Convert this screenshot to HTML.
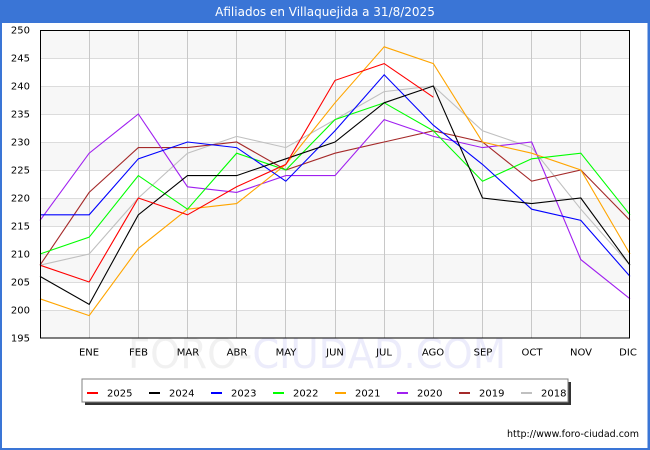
<!DOCTYPE html>
<html><head><meta charset="utf-8"><style>
html,body{margin:0;padding:0;background:#fff;}
svg{display:block;}
</style></head><body>
<svg width="650" height="450" viewBox="0 0 650 450" xmlns="http://www.w3.org/2000/svg" font-family="'DejaVu Sans','Liberation Sans',sans-serif">
<rect x="0" y="0" width="650" height="450" fill="#fff"/>
<!-- blue frame -->
<rect x="0" y="0" width="650" height="23" fill="#3a75d6"/>
<rect x="0" y="0" width="2" height="450" fill="#3a75d6"/>
<rect x="647.5" y="0" width="2.5" height="450" fill="#3a75d6"/>
<rect x="0" y="448" width="650" height="2" fill="#3a75d6"/>
<text x="325" y="16" font-size="12" fill="#fff" text-anchor="middle">Afiliados en Villaquejida a 31/8/2025</text>

<!-- bands -->
<g fill="#f7f7f7" shape-rendering="crispEdges">
<rect x="40" y="30" width="590" height="28"/>
<rect x="40" y="86" width="590" height="28"/>
<rect x="40" y="142" width="590" height="28"/>
<rect x="40" y="198" width="590" height="28"/>
<rect x="40" y="254" width="590" height="28"/>
<rect x="40" y="310" width="590" height="28"/>
</g>
<!-- horizontal grid -->
<g stroke="#dcdcdc" stroke-width="1" shape-rendering="crispEdges">
<line x1="40" y1="58.5" x2="630" y2="58.5"/>
<line x1="40" y1="86.5" x2="630" y2="86.5"/>
<line x1="40" y1="114.5" x2="630" y2="114.5"/>
<line x1="40" y1="142.5" x2="630" y2="142.5"/>
<line x1="40" y1="170.5" x2="630" y2="170.5"/>
<line x1="40" y1="198.5" x2="630" y2="198.5"/>
<line x1="40" y1="226.5" x2="630" y2="226.5"/>
<line x1="40" y1="254.5" x2="630" y2="254.5"/>
<line x1="40" y1="282.5" x2="630" y2="282.5"/>
<line x1="40" y1="310.5" x2="630" y2="310.5"/>
</g>
<!-- vertical grid -->
<g stroke="#c8c8c8" stroke-width="1" shape-rendering="crispEdges">
<line x1="89.5" y1="30" x2="89.5" y2="338"/>
<line x1="138.5" y1="30" x2="138.5" y2="338"/>
<line x1="187.5" y1="30" x2="187.5" y2="338"/>
<line x1="236.5" y1="30" x2="236.5" y2="338"/>
<line x1="285.5" y1="30" x2="285.5" y2="338"/>
<line x1="335.5" y1="30" x2="335.5" y2="338"/>
<line x1="384.5" y1="30" x2="384.5" y2="338"/>
<line x1="433.5" y1="30" x2="433.5" y2="338"/>
<line x1="482.5" y1="30" x2="482.5" y2="338"/>
<line x1="531.5" y1="30" x2="531.5" y2="338"/>
<line x1="580.5" y1="30" x2="580.5" y2="338"/>
</g>

<!-- watermark -->
<text x="128" y="368" font-size="41" textLength="378" lengthAdjust="spacingAndGlyphs"><tspan fill="#f1f1f1">FORO-</tspan><tspan fill="#ececfb">CIUDAD.COM</tspan></text>

<!-- series -->
<g fill="none" stroke-width="1.1" stroke-linejoin="miter">
<polyline stroke="#c0c0c0" points="40,265.2 89.17,254 138.33,198 187.5,153.2 236.67,136.4 285.83,147.6 335,119.6 384.17,91.6 433.33,86 482.5,130.8 531.67,147.6 580.83,209.2 630,265.2"/>
<polyline stroke="#a52a2a" points="40,265.2 89.17,192.4 138.33,147.6 187.5,147.6 236.67,142 285.83,170 335,153.2 384.17,142 433.33,130.8 482.5,142 531.67,181.2 580.83,170 630,220.4"/>
<polyline stroke="#a020f0" points="40,220.4 89.17,153.2 138.33,114 187.5,186.8 236.67,192.4 285.83,175.6 335,175.6 384.17,119.6 433.33,136.4 482.5,147.6 531.67,142 580.83,259.6 630,298.8"/>
<polyline stroke="#ffa500" points="40,298.8 89.17,315.6 138.33,248.4 187.5,209.2 236.67,203.6 285.83,164.4 335,102.8 384.17,46.8 433.33,63.6 482.5,142 531.67,153.2 580.83,170 630,254"/>
<polyline stroke="#00ff00" points="40,254 89.17,237.2 138.33,175.6 187.5,209.2 236.67,153.2 285.83,170 335,119.6 384.17,102.8 433.33,130.8 482.5,181.2 531.67,158.8 580.83,153.2 630,214.8"/>
<polyline stroke="#0000ff" points="40,214.8 89.17,214.8 138.33,158.8 187.5,142 236.67,147.6 285.83,181.2 335,130.8 384.17,74.8 433.33,125.2 482.5,164.4 531.67,209.2 580.83,220.4 630,276.4"/>
<polyline stroke="#000000" points="40,276.4 89.17,304.4 138.33,214.8 187.5,175.6 236.67,175.6 285.83,158.8 335,142 384.17,102.8 433.33,86 482.5,198 531.67,203.6 580.83,198 630,265.2"/>
<polyline stroke="#ff0000" points="40,265.2 89.17,282 138.33,198 187.5,214.8 236.67,186.8 285.83,164.4 335,80.4 384.17,63.6 433.33,97.2"/>
</g>

<!-- plot border -->
<rect x="40.5" y="30.5" width="589" height="307.5" fill="none" stroke="#000" stroke-width="1" shape-rendering="crispEdges"/>

<!-- y labels -->
<g font-size="10" fill="#000" text-anchor="end">
<text x="30" y="33.5">250</text>
<text x="30" y="61.5">245</text>
<text x="30" y="89.5">240</text>
<text x="30" y="117.5">235</text>
<text x="30" y="145.5">230</text>
<text x="30" y="173.5">225</text>
<text x="30" y="201.5">220</text>
<text x="30" y="229.5">215</text>
<text x="30" y="257.5">210</text>
<text x="30" y="285.5">205</text>
<text x="30" y="313.5">200</text>
<text x="30" y="341.5">195</text>
</g>
<!-- x labels -->
<g font-size="10" fill="#000" text-anchor="middle">
<text x="89" y="355.5">ENE</text>
<text x="138.5" y="355.5">FEB</text>
<text x="188" y="355.5">MAR</text>
<text x="237" y="355.5">ABR</text>
<text x="286" y="355.5">MAY</text>
<text x="335" y="355.5">JUN</text>
<text x="384" y="355.5">JUL</text>
<text x="433" y="355.5">AGO</text>
<text x="483" y="355.5">SEP</text>
<text x="532" y="355.5">OCT</text>
<text x="581" y="355.5">NOV</text>
<text x="628" y="355.5">DIC</text>
</g>

<!-- legend -->
<rect x="85" y="382" width="486" height="23" fill="#333"/>
<rect x="82" y="379" width="486" height="23" fill="#fff" stroke="#808080" stroke-width="1"/>
<g font-size="10" fill="#000">
<rect x="87" y="392" width="11" height="2" fill="#ff0000"/><text x="107" y="396.5">2025</text>
<rect x="149" y="392" width="11" height="2" fill="#000000"/><text x="169" y="396.5">2024</text>
<rect x="211" y="392" width="11" height="2" fill="#0000ff"/><text x="231" y="396.5">2023</text>
<rect x="273" y="392" width="11" height="2" fill="#00ff00"/><text x="293" y="396.5">2022</text>
<rect x="335" y="392" width="11" height="2" fill="#ffa500"/><text x="355" y="396.5">2021</text>
<rect x="397" y="392" width="11" height="2" fill="#a020f0"/><text x="417" y="396.5">2020</text>
<rect x="459" y="392" width="11" height="2" fill="#a52a2a"/><text x="479" y="396.5">2019</text>
<rect x="521" y="392" width="11" height="2" fill="#c0c0c0"/><text x="541" y="396.5">2018</text>
</g>

<text x="639" y="437" font-size="9.5" fill="#000" text-anchor="end" textLength="132" lengthAdjust="spacingAndGlyphs">http://www.foro-ciudad.com</text>
</svg>
</body></html>
